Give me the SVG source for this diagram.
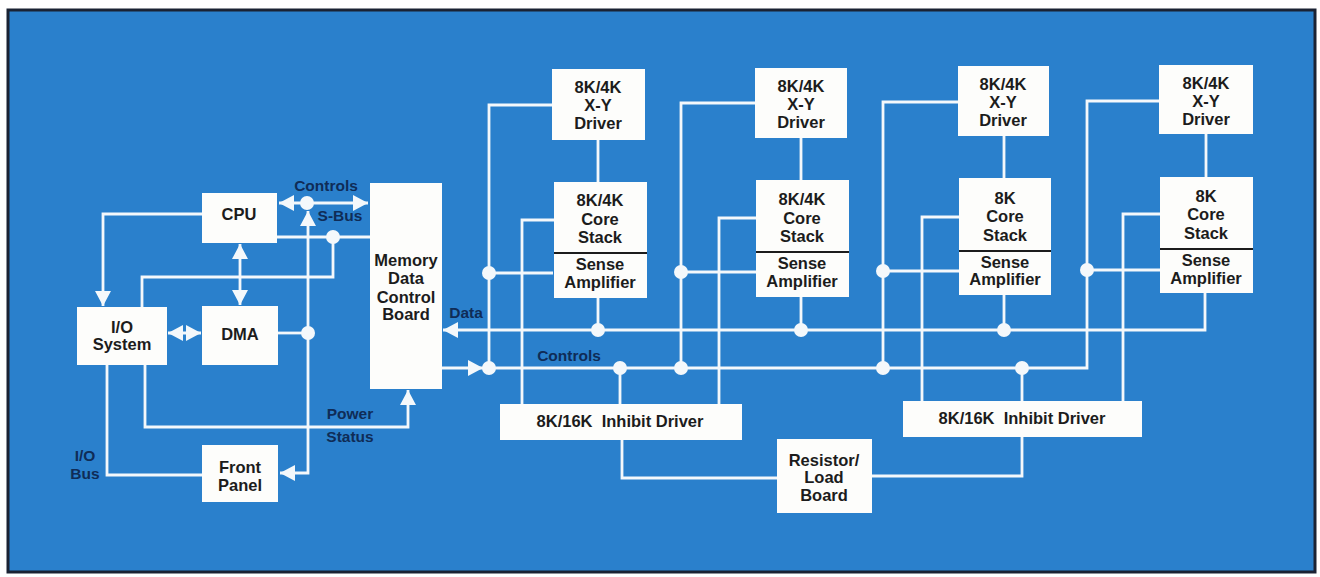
<svg xmlns="http://www.w3.org/2000/svg" width="1320" height="577" viewBox="0 0 1320 577">
<defs>
<style>
.box{fill:#fdfdfb;}
.t{font-family:"Liberation Sans Narrow","Liberation Sans",Arial,sans-serif;font-weight:bold;font-size:16.5px;fill:#1c1c1c;text-anchor:middle;}
.lbl{font-family:"Liberation Sans Narrow","Liberation Sans",Arial,sans-serif;font-weight:bold;font-size:15.5px;fill:#0f2c57;text-anchor:middle;}
.w{fill:none;stroke:#f4f8fb;stroke-width:2.8;stroke-linejoin:miter;}
.dot{fill:#f4f8fb;}
.div{stroke:#1c1c1c;stroke-width:2.2;}
</style>
<marker id="ar" viewBox="0 0 15 16" refX="15" refY="8" markerWidth="15" markerHeight="16" markerUnits="userSpaceOnUse" orient="auto-start-reverse">
<path d="M0,0 L15,8 L0,16 z" fill="#f4f8fb"/>
</marker>
</defs>
<rect x="0" y="0" width="1320" height="577" fill="#ffffff"/>
<rect x="8" y="10" width="1307" height="562" fill="#2a80cc" stroke="#1a2233" stroke-width="3"/>

<g id="connectors">
<path class="w" d="M279,203 H368" marker-start="url(#ar)" marker-end="url(#ar)"/>
<path class="w" d="M308,211 V473 H280" marker-start="url(#ar)" marker-end="url(#ar)"/>
<path class="w" d="M202,214 H103 V306" marker-end="url(#ar)"/>
<path class="w" d="M277,237 H370"/>
<path class="w" d="M333,237 V277 H142 V307"/>
<path class="w" d="M240,244 V305" marker-start="url(#ar)" marker-end="url(#ar)"/>
<path class="w" d="M168,333 H201" marker-start="url(#ar)" marker-end="url(#ar)"/>
<path class="w" d="M278,333 H308"/>
<path class="w" d="M145,365 V427 H408 V390" marker-end="url(#ar)"/>
<path class="w" d="M107,365 V475 H202"/>
<path class="w" d="M1205,293 V330 H443" marker-end="url(#ar)"/>
<path class="w" d="M598,298 V330"/>
<path class="w" d="M801,297 V330"/>
<path class="w" d="M1004,295 V330"/>
<path class="w" d="M442,368 H483" marker-end="url(#ar)"/>
<path class="w" d="M483,368 H1087 V101 H1159"/>
<path class="w" d="M552,105 H489 V368"/>
<path class="w" d="M755,103 H681 V368"/>
<path class="w" d="M958,102 H883 V368"/>
<path class="w" d="M553,273 H489"/>
<path class="w" d="M756,272 H681"/>
<path class="w" d="M959,271 H883"/>
<path class="w" d="M1160,270 H1087"/>
<path class="w" d="M554,220 H522 V404"/>
<path class="w" d="M756,218 H719 V404"/>
<path class="w" d="M959,217 H922 V401"/>
<path class="w" d="M1160,214 H1123 V401"/>
<path class="w" d="M620,368 V404"/>
<path class="w" d="M1022,368 V401"/>
<path class="w" d="M622,440 V478 H777"/>
<path class="w" d="M872,476 H1022 V437"/>
<path class="w" d="M598,140 V182"/>
<path class="w" d="M801,138 V180"/>
<path class="w" d="M1004,136 V178"/>
<path class="w" d="M1206,134 V177"/>
<circle class="dot" cx="307" cy="203" r="7"/>
<circle class="dot" cx="333" cy="237" r="7"/>
<circle class="dot" cx="308" cy="333" r="7"/>
<circle class="dot" cx="489" cy="273" r="7"/>
<circle class="dot" cx="489" cy="368" r="7"/>
<circle class="dot" cx="598" cy="330" r="7"/>
<circle class="dot" cx="620" cy="368" r="7"/>
<circle class="dot" cx="681" cy="272" r="7"/>
<circle class="dot" cx="681" cy="368" r="7"/>
<circle class="dot" cx="801" cy="330" r="7"/>
<circle class="dot" cx="883" cy="271" r="7"/>
<circle class="dot" cx="883" cy="368" r="7"/>
<circle class="dot" cx="1004" cy="330" r="7"/>
<circle class="dot" cx="1022" cy="368" r="7"/>
<circle class="dot" cx="1087" cy="270" r="7"/>
<text class="lbl" x="326" y="191">Controls</text>
<text class="lbl" x="340" y="221">S-Bus</text>
<text class="lbl" x="466" y="318">Data</text>
<text class="lbl" x="569" y="361">Controls</text>
<text class="lbl" x="350" y="419">Power</text>
<text class="lbl" x="350" y="442">Status</text>
<text class="lbl" x="85" y="461">I/O</text>
<text class="lbl" x="85" y="479">Bus</text>
</g>

<g id="cpu"><rect class="box" x="202" y="193" width="75" height="50"/><text class="t" x="239" y="220">CPU</text></g>
<g id="dma"><rect class="box" x="202" y="306" width="76" height="59"/><text class="t" x="240" y="340">DMA</text></g>
<g id="io"><rect class="box" x="77" y="307" width="90" height="58"/><text class="t" x="122" y="333">I/O</text><text class="t" x="122" y="350">System</text></g>
<g id="frontpanel"><rect class="box" x="202" y="445" width="76" height="57"/><text class="t" x="240" y="473">Front</text><text class="t" x="240" y="491">Panel</text></g>
<g id="mdcb"><rect class="box" x="370" y="183" width="72" height="206"/><text class="t" x="406" y="266">Memory</text><text class="t" x="406" y="284">Data</text><text class="t" x="406" y="303">Control</text><text class="t" x="406" y="320">Board</text></g>

<g id="xy1"><rect class="box" x="552" y="69" width="93" height="71"/><text class="t" x="598" y="93">8K/4K</text><text class="t" x="598" y="111">X-Y</text><text class="t" x="598" y="129">Driver</text></g>
<g id="core1"><rect class="box" x="554" y="182" width="93" height="116"/><line class="div" x1="554" y1="253" x2="647" y2="253"/><text class="t" x="600" y="206">8K/4K</text><text class="t" x="600" y="225">Core</text><text class="t" x="600" y="243">Stack</text><text class="t" x="600" y="270">Sense</text><text class="t" x="600" y="288">Amplifier</text></g>

<g id="xy2"><rect class="box" x="755" y="68" width="92" height="70"/><text class="t" x="801" y="92">8K/4K</text><text class="t" x="801" y="110">X-Y</text><text class="t" x="801" y="128">Driver</text></g>
<g id="core2"><rect class="box" x="756" y="180" width="93" height="117"/><line class="div" x1="756" y1="252" x2="849" y2="252"/><text class="t" x="802" y="205">8K/4K</text><text class="t" x="802" y="224">Core</text><text class="t" x="802" y="242">Stack</text><text class="t" x="802" y="269">Sense</text><text class="t" x="802" y="287">Amplifier</text></g>

<g id="xy3"><rect class="box" x="958" y="66" width="91" height="70"/><text class="t" x="1003" y="90">8K/4K</text><text class="t" x="1003" y="108">X-Y</text><text class="t" x="1003" y="126">Driver</text></g>
<g id="core3"><rect class="box" x="959" y="178" width="92" height="117"/><line class="div" x1="959" y1="251" x2="1051" y2="251"/><text class="t" x="1005" y="204">8K</text><text class="t" x="1005" y="222">Core</text><text class="t" x="1005" y="241">Stack</text><text class="t" x="1005" y="268">Sense</text><text class="t" x="1005" y="285">Amplifier</text></g>

<g id="xy4"><rect class="box" x="1159" y="65" width="94" height="69"/><text class="t" x="1206" y="89">8K/4K</text><text class="t" x="1206" y="107">X-Y</text><text class="t" x="1206" y="125">Driver</text></g>
<g id="core4"><rect class="box" x="1160" y="177" width="93" height="116"/><line class="div" x1="1160" y1="249" x2="1253" y2="249"/><text class="t" x="1206" y="202">8K</text><text class="t" x="1206" y="220">Core</text><text class="t" x="1206" y="239">Stack</text><text class="t" x="1206" y="266">Sense</text><text class="t" x="1206" y="284">Amplifier</text></g>

<g id="inhibit1"><rect class="box" x="500" y="404" width="242" height="36"/><text class="t" x="620" y="427">8K/16K&#160; Inhibit Driver</text></g>
<g id="inhibit2"><rect class="box" x="903" y="401" width="239" height="36"/><text class="t" x="1022" y="424">8K/16K&#160; Inhibit Driver</text></g>
<g id="resistor"><rect class="box" x="777" y="439" width="95" height="74"/><text class="t" x="824" y="466">Resistor/</text><text class="t" x="824" y="483">Load</text><text class="t" x="824" y="501">Board</text></g>
</svg>
